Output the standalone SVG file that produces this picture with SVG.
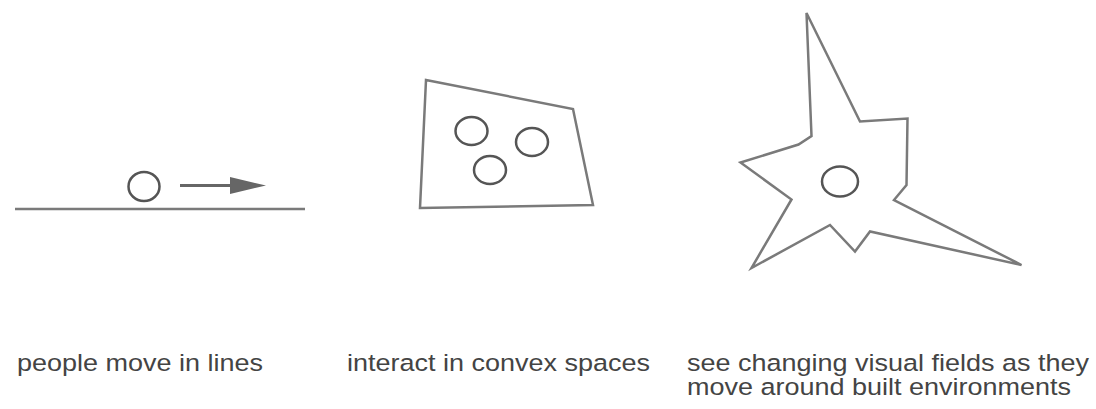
<svg xmlns="http://www.w3.org/2000/svg" width="1096" height="409" viewBox="0 0 1096 409">
<style>
.shape{fill:none;stroke:#7a7a7a;stroke-width:2.5;stroke-linejoin:miter}
.person{fill:none;stroke:#555;stroke-width:2.5}
.label{font-family:"Liberation Sans",Arial,sans-serif;font-size:27px;fill:#444}
</style>
<rect width="1096" height="409" fill="#fff"/>
<g id="lines-panel">
<line class="shape" x1="15" y1="209" x2="305" y2="209"/>
<ellipse class="person" cx="144" cy="186.5" rx="15.5" ry="14.5"/>
<line x1="180" y1="185.5" x2="234" y2="185.5" stroke="#666" stroke-width="3"/>
<polygon points="230,177 266,185.5 230,194" fill="#666"/>
</g>
<g id="convex-panel">
<polygon class="shape" points="426,80 573,109 593,205 420,208"/>
<ellipse class="person" cx="471.5" cy="131" rx="16" ry="14"/>
<ellipse class="person" cx="532" cy="142" rx="16" ry="14"/>
<ellipse class="person" cx="490" cy="170" rx="16" ry="14"/>
</g>
<g id="visual-panel">
<polygon class="shape" points="806.5,13 860,121.5 907.5,118.5 906.5,185 894,200 1021.5,265 870,231.5 855,251.5 830,225 751.5,268 791.5,199.5 740.5,162.5 798.5,144.5 811.5,136"/>
<ellipse class="person" cx="840" cy="181.5" rx="18" ry="15"/>
</g>
<g id="labels" transform="scale(1,0.87)">
<text class="label" x="17" y="426.4">people move in lines</text>
<text class="label" x="347" y="426.4">interact in convex spaces</text>
<text class="label" x="687" y="426.4">see changing visual fields as they</text>
<text class="label" x="687" y="454">move around built environments</text>
</g>
</svg>
